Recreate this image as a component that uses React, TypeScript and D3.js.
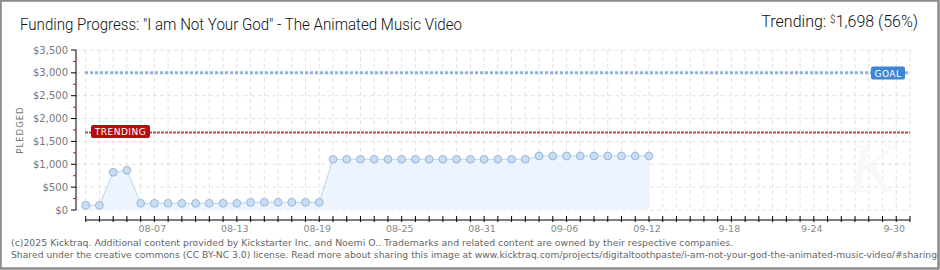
import React from "react";
import * as d3 from "d3";

const pledged = [
  103, 103, 825, 868, 146, 146, 146, 146, 146, 146, 146, 146,
  168, 168, 168, 168, 168, 168,
  1109, 1109, 1109, 1109, 1109, 1109, 1109, 1109, 1109, 1109, 1109, 1109, 1109, 1109, 1109,
  1181, 1181, 1181, 1181, 1181, 1181, 1181, 1181, 1181,
];
const tickLabels = ["08-07", "08-13", "08-19", "08-25", "08-31", "09-06", "09-12", "9-18", "9-24", "9-30"];
const tickLabelIdx = [5, 11, 17, 23, 29, 35, 41, 47, 53, 59];
const yTicks = [0, 500, 1000, 1500, 2000, 2500, 3000, 3500];
const goal = 3000;
const trending = 1698;
const totalDays = 60;

const W = 940;
const H = 270;

export default function App() {
  const x = d3.scaleLinear().domain([0, totalDays]).range([85.7, 910]);
  const y = d3.scaleLinear().domain([0, 3500]).range([210, 50]);
  const fmt = (v: number) => "$" + d3.format(",")(v);
  const line = d3.line<number>().x((_, i) => x(i)).y((d) => y(d));
  const area = d3.area<number>().x((_, i) => x(i)).y0(y(0)).y1((d) => y(d));
  const days = d3.range(0, totalDays + 1);
  const minor = d3.range(250, 3500, 500);
  const axisFont = "'DejaVu Sans', sans-serif";
  const titleFont = "Roboto, sans-serif";
  return (
    <svg width={W} height={H} style={{ position: "absolute", left: 0, top: 0, background: "#fff" }}>
      <rect x={0.5} y={0.5} width={W - 2} height={H - 2} fill="#fff" stroke="#8a8a8a" strokeWidth={2} />
      {/* grid */}
      {yTicks.map((v) => (
        <line key={"h" + v} x1={76} x2={910} y1={y(v)} y2={y(v)} stroke="#e2e2e2" strokeDasharray="4,3" />
      ))}
      {days.map((d) => (
        <line key={"v" + d} x1={x(d)} x2={x(d)} y1={50} y2={210} stroke="#e2e2e2" strokeDasharray="4,3" />
      ))}
      <text x={848} y={192} fontSize={72} fontFamily="serif" fontStyle="italic" fill="#f8f8f8">K</text>
      {/* area & line */}
      <path d={area(pledged) || ""} fill="#edf4fd" />
      <path d={line(pledged) || ""} fill="none" stroke="#b9d5f2" strokeWidth={1} />
      {/* goal & trending lines */}
      <line x1={85} x2={910} y1={y(goal)} y2={y(goal)} stroke="#8fb2df" strokeWidth={3} strokeDasharray="3,2" />
      <line x1={85} x2={910} y1={y(trending)} y2={y(trending)} stroke="#b94a4a" strokeWidth={2} strokeDasharray="3,1" />
      {pledged.map((v, i) => (
        <circle key={"c" + i} cx={x(i)} cy={y(v)} r={3.9} fill="#c6ddf6" stroke="#9db6d6" strokeWidth={1} />
      ))}
      {/* labels */}
      <g>
        <rect x={91} y={125} width={59} height={13} rx={2} fill="#b80c0c" />
        <text x={120.5} y={135} textAnchor="middle" fontSize={9} fontFamily={axisFont} fill="#fff" letterSpacing={0.5}>TRENDING</text>
      </g>
      <g>
        <rect x={871} y={66.5} width={34} height={13} rx={2} fill="#3f86d4" />
        <text x={888} y={76.5} textAnchor="middle" fontSize={9} fontFamily={axisFont} fill="#fff" letterSpacing={0.5}>GOAL</text>
      </g>
      {/* y axis */}
      <line x1={76} x2={76} y1={50} y2={210} stroke="#000" strokeWidth={1} />
      {yTicks.map((v) => (
        <g key={"yt" + v}>
          <line x1={71} x2={76} y1={y(v)} y2={y(v)} stroke="#000" />
          <text x={68} y={y(v) + 3.5} textAnchor="end" fontSize={10} fontFamily={axisFont} fill="#777">{fmt(v)}</text>
        </g>
      ))}
      {minor.map((v) => (
        <line key={"ym" + v} x1={73} x2={76} y1={y(v)} y2={y(v)} stroke="#e00" />
      ))}
      <text transform="translate(23,130) rotate(-90)" textAnchor="middle" fontSize={8.5} fontFamily={axisFont} fill="#777" letterSpacing={1}>PLEDGED</text>
      {/* x axis */}
      <line x1={x(0)} x2={x(totalDays)} y1={220} y2={220} stroke="#000" />
      {days.map((d) => (
        <line key={"xt" + d} x1={x(d)} x2={x(d)} y1={216} y2={222} stroke="#000" />
      ))}
      {tickLabelIdx.map((d, i) => (
        <text key={"xl" + d} x={x(d) - 2} y={232} textAnchor="middle" fontSize={9.5} fontFamily={axisFont} fill="#888">{tickLabels[i]}</text>
      ))}
      {/* title */}
      <text x={20} y={30} fontSize={16} fontWeight={300} fontFamily={titleFont} fill="#111" textLength={442} lengthAdjust="spacingAndGlyphs">Funding Progress: "I am Not Your God" - The Animated Music Video</text>
      <text x={918} y={27} textAnchor="end" fontSize={16} fontWeight={300} fontFamily={titleFont} fill="#111">
        Trending:{"  "}<tspan fontSize={10} dy={-4}>$</tspan><tspan dy={4}>1,698 (56%)</tspan>
      </text>
      {/* footer */}
      <text x={11} y={246} fontSize={9.2} fontFamily={axisFont} fill="#666" textLength={722} lengthAdjust="spacingAndGlyphs">(c)2025 Kicktraq. Additional content provided by Kickstarter Inc. and Noemi O.. Trademarks and related content are owned by their respective companies.</text>
      <text x={11} y={258} fontSize={9.2} fontFamily={axisFont} fill="#666" textLength={926} lengthAdjust="spacingAndGlyphs">Shared under the creative commons (CC BY-NC 3.0) license. Read more about sharing this image at www.kicktraq.com/projects/digitaltoothpaste/i-am-not-your-god-the-animated-music-video/#sharing</text>
      <rect x={0.5} y={0.5} width={W - 2} height={H - 2} fill="none" stroke="#8a8a8a" strokeWidth={2} />
    </svg>
  );
}
